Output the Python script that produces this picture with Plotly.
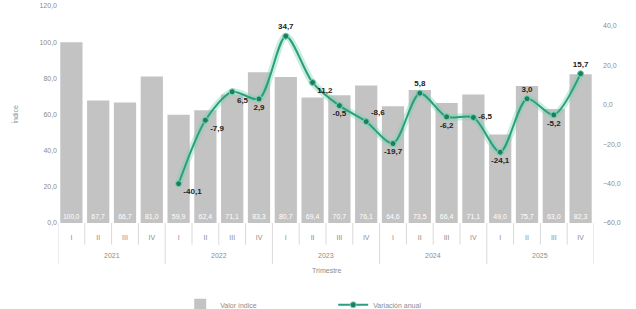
import plotly.graph_objects as go

years = ["2021", "2022", "2023", "2024", "2025"]
quarters = ["I", "II", "III", "IV"]
index_values = [100.0, 67.7, 66.7, 81.0, 59.9, 62.4, 71.1, 83.3, 80.7, 69.4,
                70.7, 76.1, 64.6, 73.5, 66.4, 71.1, 49.0, 75.7, 63.0, 82.3]
annual_change = [None, None, None, None, -40.1, -7.9, 6.5, 2.9, 34.7, 11.2,
                 -0.5, -8.6, -19.7, 5.8, -6.2, -6.5, -24.1, 3.0, -5.2, 15.7]
change_label_pos = [None, None, None, None, "bottom right", "bottom right", "bottom right",
                    "bottom center", "top center", "bottom right", "bottom center",
                    "top right", "bottom center", "top center", "bottom center",
                    "middle right", "bottom center", "top center", "bottom center",
                    "top center"]

cats = [f"{q} {y}" for y in years for q in quarters]
grey = "#8c8c8c"
axis_line = "#d9d9d9"

def fmt(v):
    return "" if v is None else f"{v:.1f}".replace(".", ",")

fig = go.Figure()
fig.add_trace(go.Bar(
    x=cats, y=index_values, name="Valor índice",
    marker=dict(color="#c3c3c3", line=dict(width=0)),
    text=[fmt(v) for v in index_values], textposition="inside",
    insidetextanchor="start", textangle=0,
    textfont=dict(color="white", size=7, family="Liberation Sans"),
    hoverinfo="skip",
))
fig.add_trace(go.Scatter(
    x=cats, y=annual_change, yaxis="y2", mode="lines", showlegend=False,
    line=dict(color="rgba(120,210,175,0.4)", width=7, shape="spline", smoothing=0.8),
    hoverinfo="skip",
))
fig.add_trace(go.Scatter(
    x=cats, y=annual_change, yaxis="y2", name="Variación anual",
    mode="lines+markers+text",
    line=dict(color="#2a9f7c", width=2, shape="spline", smoothing=0.8),
    marker=dict(color="#1b7f5f", size=6, line=dict(color="#7fd3b3", width=1)),
    text=["<b>" + fmt(v) + "</b>" if v is not None else "" for v in annual_change],
    textposition=[p if p else "top center" for p in change_label_pos],
    textfont=dict(color="#222222", size=8, family="Liberation Sans"),
))

# multi-level category axis: separators and year labels
n_q = len(quarters)
for i in range(len(cats) + 1):
    is_year = i % n_q == 0
    fig.add_shape(type="line", xref="x", yref="paper",
                  x0=i - 0.5, x1=i - 0.5, y0=0, y1=-0.19 if is_year else -0.10,
                  line=dict(color=axis_line, width=1))
for j, y in enumerate(years):
    fig.add_annotation(x=j * n_q + (n_q - 1) / 2, y=-0.148, xref="x", yref="paper",
                       text=y, showarrow=False, yanchor="middle",
                       font=dict(size=7, color=grey))
fig.add_annotation(x=0.5, y=-0.218, xref="paper", yref="paper", text="Trimestre",
                   showarrow=False, yanchor="middle", font=dict(size=7, color=grey))

fig.update_layout(
    width=636, height=309,
    margin=dict(l=58, r=42, t=6, b=86, autoexpand=False),
    paper_bgcolor="white", plot_bgcolor="white",
    separators=",.",
    font=dict(family="Liberation Sans", size=7, color=grey),
    bargap=0.17,
    showlegend=True,
    xaxis=dict(
        type="category", showgrid=False, showline=False, automargin=False,
        range=[-0.5, len(cats) - 0.5],
        tickvals=cats, ticktext=[q for _ in years for q in quarters],
        ticks="", ticklabelstandoff=9,
        tickfont=dict(size=7, color=grey),
    ),
    yaxis=dict(
        range=[0, 120], dtick=20, tickformat=".1f", showgrid=False, zeroline=False,
        showline=False, automargin=False, tickfont=dict(size=7, color=grey),
        title=dict(text="Índice", font=dict(size=7, color=grey), standoff=20),
    ),
    yaxis2=dict(
        overlaying="y", side="right", range=[-60, 50],
        tickvals=[-60, -40, -20, 0, 20, 40], tickformat=".1f",
        showgrid=False, zeroline=False, showline=False, automargin=False,
        ticklabelstandoff=8,
        tickfont=dict(size=7, color=grey),
    ),
    legend=dict(orientation="h", x=0.228, xanchor="left", y=-0.31, yanchor="top",
                font=dict(size=7, color=grey), itemwidth=30,
                entrywidth=108, entrywidthmode="pixels"),
)

fig.write_html("out.html", config={"displayModeBar": False},
               post_script="document.body.style.margin='0';")
